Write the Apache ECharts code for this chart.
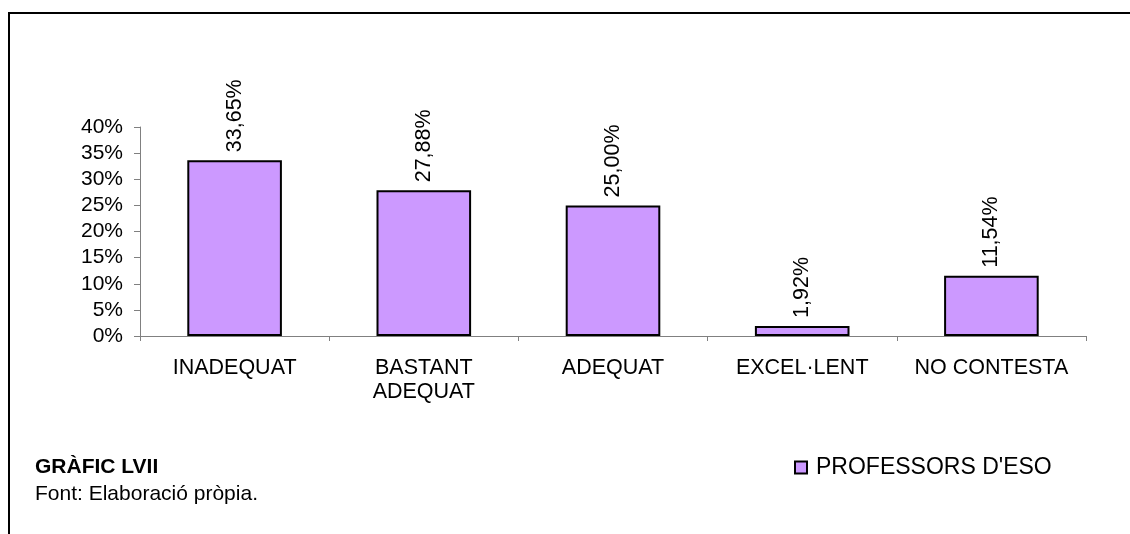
<!DOCTYPE html>
<html>
<head>
<meta charset="utf-8">
<script src="https://cdn.jsdelivr.net/npm/echarts@6/dist/echarts.min.js"></script>
<style>
  html, body { margin: 0; padding: 0; background: #fff; }
  #chart { width: 1130px; height: 534px; }
</style>
</head>
<body>
<div id="chart"></div>
<script>
  // dades del gràfic
  var categories = ['INADEQUAT', 'BASTANT\nADEQUAT', 'ADEQUAT', 'EXCEL·LENT', 'NO CONTESTA'];
  var values = [33.65, 27.88, 25.00, 1.92, 11.54];
  var seriesName = "PROFESSORS D'ESO";
  var yTicks = [0, 5, 10, 15, 20, 25, 30, 35, 40];

  var font = '"Liberation Sans", Arial, sans-serif';
  var chart = echarts.init(document.getElementById('chart'));

  chart.setOption({
    animation: false,
    textStyle: { fontFamily: font },
    title: {
      text: 'GRÀFIC LVII',
      subtext: 'Font: Elaboració pròpia.',
      left: 30,
      top: 452,
      itemGap: 6,
      textStyle: { fontSize: 21, fontWeight: 'bold', color: '#000', fontFamily: font },
      subtextStyle: { fontSize: 21, color: '#000', fontFamily: font }
    },
    legend: {
      left: 789,
      top: 451,
      icon: 'rect',
      itemWidth: 12,
      itemHeight: 12,
      textStyle: { fontSize: 23, color: '#000', fontFamily: font, padding: [0, 0, 0, 4] },
      data: [seriesName]
    },
    grid: { left: 140, right: 44, top: 127, bottom: 198 },
    xAxis: {
      type: 'category',
      data: categories,
      axisLine: { lineStyle: { color: '#808080', width: 1 } },
      axisTick: { show: true, length: 5, lineStyle: { color: '#808080' } },
      axisLabel: { color: '#000', fontSize: 21.5, lineHeight: 24, margin: 20, interval: 0 }
    },
    yAxis: {
      type: 'value',
      min: yTicks[0],
      max: yTicks[yTicks.length - 1],
      interval: 5,
      splitLine: { show: false },
      axisLine: { show: true, lineStyle: { color: '#808080', width: 1 } },
      axisTick: { show: true, length: 6, lineStyle: { color: '#808080' } },
      axisLabel: { color: '#000', fontSize: 21, margin: 17, formatter: '{value}%' }
    },
    series: [{
      name: seriesName,
      type: 'bar',
      data: values,
      barWidth: '50%',
      itemStyle: { color: '#CC99FF', borderColor: '#000', borderWidth: 2 },
      label: {
        show: true,
        position: 'top',
        rotate: 90,
        align: 'left',
        verticalAlign: 'middle',
        distance: 8,
        color: '#000',
        fontSize: 21.5,
        fontFamily: font,
        formatter: function (p) { return p.value.toFixed(2).replace('.', ',') + '%'; }
      }
    }],
    graphic: [{
      type: 'polyline',
      shape: { points: [[9, 534], [9, 13], [1130, 13]] },
      style: { stroke: '#000', lineWidth: 2, fill: null }
    }]
  });
</script>
</body>
</html>
